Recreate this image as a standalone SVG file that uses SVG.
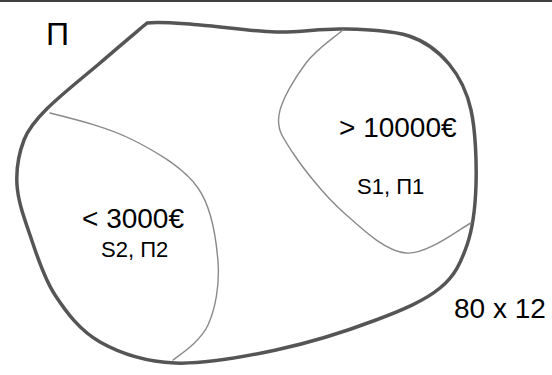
<svg xmlns="http://www.w3.org/2000/svg" width="552" height="375" viewBox="0 0 552 375">
  <style>
    .outer { fill: none; stroke: #555555; stroke-width: 3.5; stroke-linejoin: round; }
    .divider { fill: none; stroke: #8a8a8a; stroke-width: 1.4; stroke-linecap: round; }
    .big { font-family: "Liberation Sans", Arial, sans-serif; font-size: 28px; fill: #000000; }
    .small { font-family: "Liberation Sans", Arial, sans-serif; font-size: 22px; fill: #000000; }
  </style>
  <rect x="0" y="0" width="552" height="375" fill="#ffffff"/>
  <rect id="top-bar" x="0" y="0" width="552" height="2" fill="#404040"/>

  <g id="set-P">
    <path class="outer" d="M147,23 C160,21 178.5,23.5 200,25 C221.5,26.5 252.2,31.3 276,32 C299.8,32.7 320.8,28.3 343,29 C365.2,29.7 391.3,30.2 409,36 C426.7,41.8 438.7,51.7 449,64 C459.3,76.3 466.5,89.8 471,110 C475.5,130.2 476.7,162.5 476,185 C475.3,207.5 473,227.8 467,245 C461,262.2 455.2,275.5 440,288 C424.8,300.5 403.3,309.7 376,320 C348.7,330.3 309.5,342.8 276,350 C242.5,357.2 204.3,364.3 175,363 C145.7,361.7 120,353.3 100,342 C80,330.7 66.7,312.8 55,295 C43.3,277.2 36.3,253.3 30,235 C23.7,216.7 18,200.8 17,185 C16,169.2 19.3,152.2 24,140 C33.7,114.9 70,88.6 100,63 C117,48.2 137,31.5 147,23 Z"/>
    <text class="big" x="46" y="45" style="font-size:32px">Π</text>
    <text class="big" x="454" y="318">80 x 12</text>
  </g>

  <g id="region-high">
    <text class="big" x="339" y="137">&gt; 10000€</text>
    <text class="small" x="357" y="194">S1, Π1</text>
  </g>

  <g id="region-low">
    <text class="big" x="82" y="228">&lt; 3000€</text>
    <text class="small" x="101" y="257">S2, Π2</text>
  </g>

  <g id="connectors">
    <path class="divider" d="M50,113 C78,120 108.3,127.5 133,140 C157.7,152.5 183.8,167.7 198,188 C212.2,208.3 216.3,239.2 218,262 C219.7,284.8 215.5,308.7 208,325 C200.5,341.3 181,354 173,360"/>
    <path class="divider" d="M343,30 C331,40 316.7,48.8 306,63 C295.3,77.2 281.2,100 279,115 C276.8,130 282.3,136.8 293,153 C303.7,169.2 324.2,195.3 343,212 C361.8,228.7 384.7,251.2 406,253 C427.3,254.8 459,229 471,223"/>
  </g>
</svg>
